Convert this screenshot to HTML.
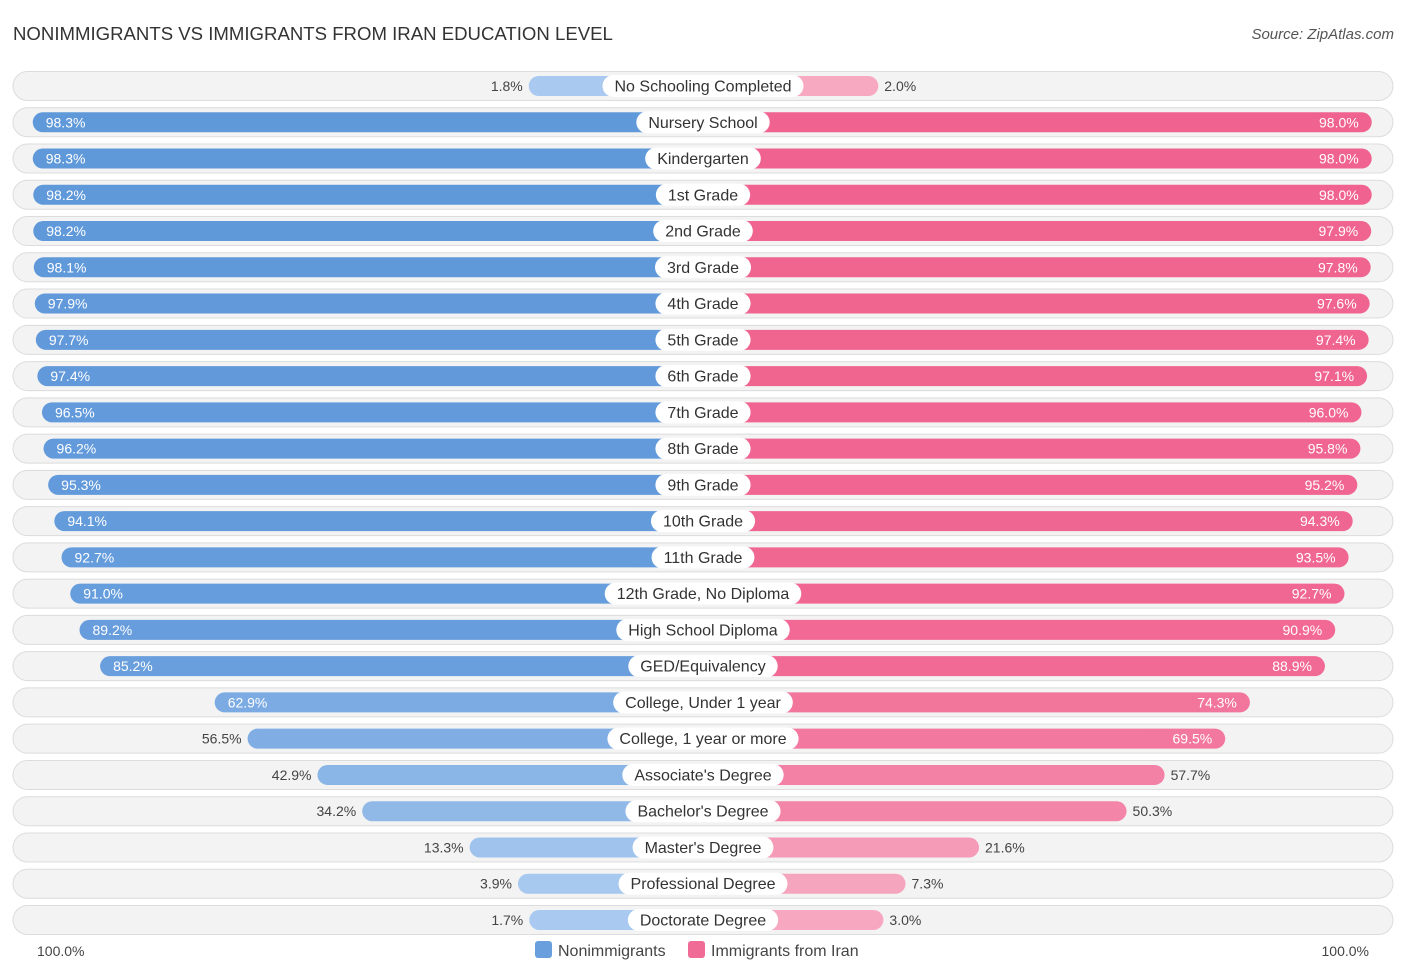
<!DOCTYPE html>
<html><head><meta charset="utf-8">
<style>
body{margin:0;background:#fff;font-family:"Liberation Sans",sans-serif;}
svg{display:block}
</style></head><body>
<svg id="chart" width="1406" height="975">
<text x="13" y="40" font-size="18.6" fill="#333">NONIMMIGRANTS VS IMMIGRANTS FROM IRAN EDUCATION LEVEL</text>
<text x="1394" y="39" font-size="15" fill="#555" font-style="italic" text-anchor="end">Source: ZipAtlas.com</text>
<g id="rows"></g>
<text x="37" y="956" font-size="14" fill="#444">100.0%</text>
<text x="1369" y="956" font-size="14" fill="#444" text-anchor="end">100.0%</text>
<g>
<rect x="535" y="941" width="17" height="17" rx="3" fill="#6a9fde"/>
<text x="558" y="956" font-size="16" fill="#444">Nonimmigrants</text>
<rect x="688" y="941" width="17" height="17" rx="3" fill="#f06b96"/>
<text x="711" y="956" font-size="16" fill="#444">Immigrants from Iran</text>
</g>
</svg>
<script>
const categories=["No Schooling Completed","Nursery School","Kindergarten","1st Grade","2nd Grade","3rd Grade","4th Grade","5th Grade","6th Grade","7th Grade","8th Grade","9th Grade","10th Grade","11th Grade","12th Grade, No Diploma","High School Diploma","GED/Equivalency","College, Under 1 year","College, 1 year or more","Associate's Degree","Bachelor's Degree","Master's Degree","Professional Degree","Doctorate Degree"];
const nonimmigrants=[1.8,98.3,98.3,98.2,98.2,98.1,97.9,97.7,97.4,96.5,96.2,95.3,94.1,92.7,91.0,89.2,85.2,62.9,56.5,42.9,34.2,13.3,3.9,1.7];
const immigrants=[2.0,98.0,98.0,98.0,97.9,97.8,97.6,97.4,97.1,96.0,95.8,95.2,94.3,93.5,92.7,90.9,88.9,74.3,69.5,57.7,50.3,21.6,7.3,3.0];
const NS="http://www.w3.org/2000/svg";
const g=document.getElementById('rows');
const cx=703,y0=86,dy=36.26;
function w(v){return 165+5.14*v;}
function mix(a,b,t){return 'rgb('+a.map((x,i)=>Math.round(x+(b[i]-x)*t)).join(',')+')';}
function mk(tag,attrs){const e=document.createElementNS(NS,tag);for(const k in attrs)e.setAttribute(k,attrs[k]);return e;}
categories.forEach((c,i)=>{
  const y=y0+i*dy;
  const bg=mk('rect',{x:13,y:y-14.5,width:1380,height:29,rx:14.5,fill:'#f3f3f3',stroke:'#dcdcdc','stroke-width':1});
  
  
  g.appendChild(bg);
  const a=nonimmigrants[i],b=immigrants[i];
  const lw=w(a),rw=w(b);
  const bl=mk('rect',{x:cx-lw,y:y-10,width:lw,height:20,rx:10,fill:mix([170,202,240],[95,152,218],Math.min(1,a/100))});
  
  
  g.appendChild(bl);
  const br=mk('rect',{x:cx,y:y-10,width:rw,height:20,rx:10,fill:mix([247,170,194],[240,98,143],Math.min(1,b/100))});
  
  
  g.appendChild(br);
  const inL=a>60,inR=b>60;
  const tl=mk('text',{x:inL?cx-lw+13:cx-lw-6,y:y+5,'font-size':14,fill:inL?'#fff':'#444','text-anchor':inL?'start':'end'});
  tl.textContent=a.toFixed(1)+'%';
  
  
  g.appendChild(tl);
  const tr=mk('text',{x:inR?cx+rw-13:cx+rw+6,y:y+5,'font-size':14,fill:inR?'#fff':'#444','text-anchor':inR?'end':'start'});
  tr.textContent=b.toFixed(1)+'%';
  
  
  g.appendChild(tr);
  const lab=mk('text',{x:cx,y:y+5.5,'font-size':16,fill:'#333','text-anchor':'middle'});
  lab.textContent=c;
  g.appendChild(lab);
  const tw=lab.getComputedTextLength()+24;
  const pill=mk('rect',{x:cx-tw/2,y:y-11,width:tw,height:22,rx:11,fill:'#fff'});
  
  
  g.insertBefore(pill,lab);
  
  
});
</script>
</body></html>
